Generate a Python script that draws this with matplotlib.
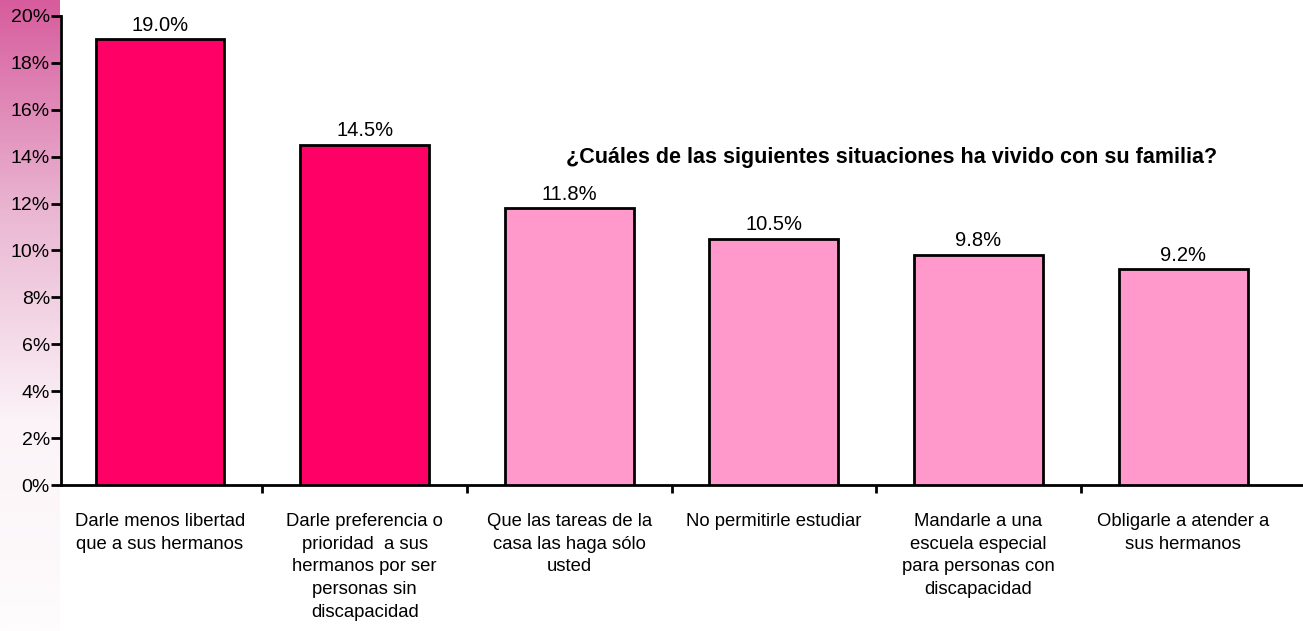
import numpy as np
import matplotlib.pyplot as plt
from matplotlib.colors import LinearSegmentedColormap

plt.rcParams['font.family'] = ['Liberation Sans', 'DejaVu Sans']

categories = [
    'Darle menos libertad\nque a sus hermanos',
    'Darle preferencia o\nprioridad  a sus\nhermanos por ser\npersonas sin\ndiscapacidad',
    'Que las tareas de la\ncasa las haga sólo\nusted',
    'No permitirle estudiar',
    'Mandarle a una\nescuela especial\npara personas con\ndiscapacidad',
    'Obligarle a atender a\nsus hermanos',
]
values = [19.0, 14.5, 11.8, 10.5, 9.8, 9.2]
bar_colors = ['#FF0066', '#FF0066', '#FF99CC', '#FF99CC', '#FF99CC', '#FF99CC']

fig = plt.figure(figsize=(13.03, 6.31), dpi=100)

# pink strip on the left edge
strip = fig.add_axes([0, 0, 60 / 1303, 1])
cmap = LinearSegmentedColormap.from_list('strip', ['#d75c9d', '#eab6d2', '#fbf3f7', '#fefcfd'])
strip.imshow(np.linspace(0, 1, 256).reshape(-1, 1), aspect='auto', cmap=cmap)
strip.axis('off')

ax = fig.add_axes([61 / 1303, 146 / 631, 1242 / 1303, 469 / 631])
ax.patch.set_alpha(0)
x = np.arange(len(values))
ax.bar(x, values, width=0.63, color=bar_colors, edgecolor='black', linewidth=2, zorder=3)

for xi, v in zip(x, values):
    ax.text(xi, v + 0.2, f'{v:.1f}%', ha='center', va='bottom', fontsize=14.5)

ax.set_xlim(-0.484, 5.586)
ax.set_ylim(0, 20)
ax.set_yticks(np.arange(0, 21, 2))
ax.set_yticklabels([f'{t}%' for t in range(0, 21, 2)], fontsize=14)
ax.set_xticks(x)
ax.set_xticklabels(categories, fontsize=13.3, linespacing=1.45, va='top')
ax.tick_params(axis='x', length=0, pad=20)
ax.set_xticks(x[:-1] + 0.5, minor=True)
ax.tick_params(axis='x', which='minor', length=6, width=2, direction='out')
ax.tick_params(axis='y', length=7, width=2, direction='out', pad=1)

for side in ['top', 'right']:
    ax.spines[side].set_visible(False)
for side in ['left', 'bottom']:
    ax.spines[side].set_linewidth(2)

fig.text(892 / 1303, 1 - 157 / 631, '¿Cuáles de las siguientes situaciones ha vivido con su familia?',
         ha='center', va='center', fontsize=15.5, fontweight='bold')

fig.savefig('out.png', dpi=100)
